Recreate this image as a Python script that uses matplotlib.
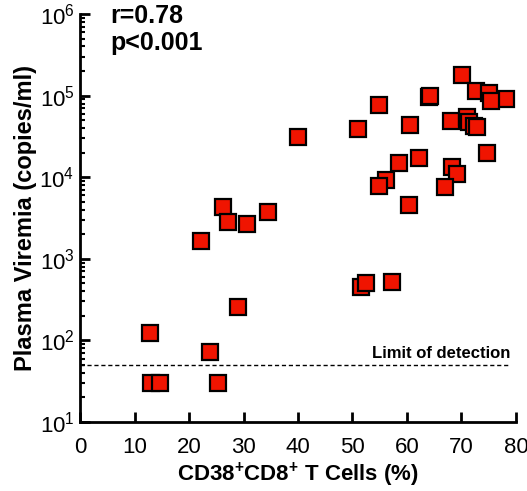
import numpy as np
import matplotlib
matplotlib.use('Agg')
from matplotlib import pyplot as plt
from matplotlib.ticker import LogLocator, LogFormatterMathtext, MultipleLocator

plt.rcParams['font.family'] = ['Liberation Sans', 'DejaVu Sans']
plt.rcParams['mathtext.fontset'] = 'custom'
plt.rcParams['mathtext.rm'] = 'Liberation Sans'
plt.rcParams['mathtext.bf'] = 'Liberation Sans:bold'

# CD38+CD8+ T cells (%) vs plasma viremia (copies/ml)
cd38 = [12.9, 13.1, 14.7, 23.9, 25.4, 28.9, 22.2, 26.2, 27.1, 30.7, 34.5,
        40.0, 51.0, 54.8, 60.6, 64.0, 64.3, 70.1, 72.7, 75.0, 78.2, 75.4,
        68.1, 71.0, 71.4, 72.3, 72.9, 74.7, 62.2, 58.6, 56.2, 54.8, 60.3,
        68.3, 69.2, 67.0, 51.6, 52.4, 57.2]
viremia = [123, 30, 30, 72, 30, 256, 1660, 4300, 2800, 2700, 3700,
           31000, 39000, 76000, 43500, 95000, 100000, 178000, 115000, 107000, 91000, 85000,
           49000, 54000, 47000, 43000, 41000, 20000, 17200, 14800, 9300, 7900, 4600,
           13300, 11000, 7600, 450, 500, 520]
detection_limit = 50

fig = plt.figure(figsize=(5.27, 4.91), dpi=100)
ax = fig.add_axes([0.152, 0.1405, 0.827, 0.831])

ax.plot(cd38, viremia, 's', ms=12, mfc='#f01400', mec='black', mew=1.6, ls='none', zorder=3)
ax.plot([0, 79], [detection_limit, detection_limit], ls=(0, (3, 2)), color='black', lw=1)
ax.text(79, 56, 'Limit of detection', ha='right', va='bottom', fontsize=12, fontweight='bold')

ax.set_yscale('log')
ax.set_xlim(0, 80)
ax.set_ylim(10, 1e6)
ax.xaxis.set_major_locator(MultipleLocator(10))
ax.yaxis.set_major_locator(LogLocator(base=10))
ax.yaxis.set_minor_locator(LogLocator(base=10, subs=np.arange(2, 10)))
ax.yaxis.set_major_formatter(LogFormatterMathtext())

for s in ['top', 'right']:
    ax.spines[s].set_visible(False)
for s in ['left', 'bottom']:
    ax.spines[s].set_linewidth(2)
ax.tick_params(which='major', direction='in', length=7, width=2, labelsize=16)
ax.tick_params(axis='x', which='major', pad=11)
ax.tick_params(axis='y', which='major', pad=4)
ax.tick_params(which='minor', direction='in', length=3.5, width=1.5)

ax.set_xlabel(r'CD38$^{\mathbf{+}}$CD8$^{\mathbf{+}}$ T Cells (%)', fontsize=16, fontweight='bold', labelpad=2)
ax.set_ylabel('Plasma Viremia (copies/ml)', fontsize=17, fontweight='bold', labelpad=2)

ax.text(0.07, 1.025, 'r=0.78\np<0.001', transform=ax.transAxes, ha='left', va='top',
        fontsize=18, fontweight='bold', linespacing=1.15)

fig.savefig('out.png', dpi=100)
